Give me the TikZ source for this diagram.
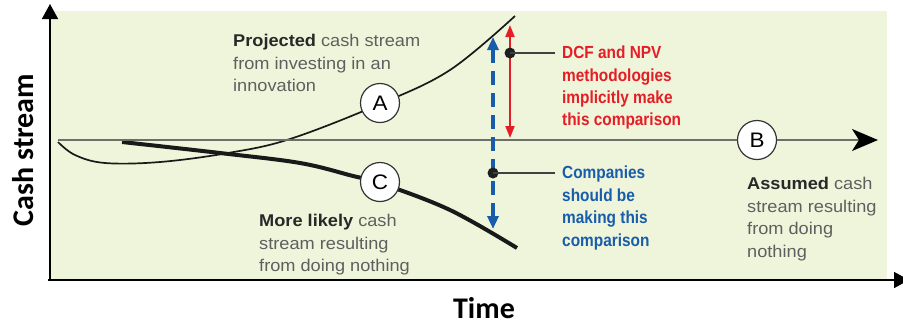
\documentclass[tikz,border=0pt]{standalone}
\usepackage{fontspec}
\setmainfont{Liberation Sans}[FakeStretch=1.07]
\newfontfamily\condfont[FakeStretch=0.88]{Liberation Sans}
\newfontfamily\calfont{Carlito}
\usetikzlibrary{arrows.meta}
\definecolor{bggreen}{RGB}{239,245,219}
\definecolor{graytext}{RGB}{95,95,95}
\definecolor{darktext}{RGB}{40,40,40}
\definecolor{zerogray}{RGB}{110,110,105}
\definecolor{redc}{RGB}{228,30,38}
\definecolor{bluec}{RGB}{24,92,172}
\newcommand\bk[1]{{\color{darktext}\bfseries #1}}
\tikzset{
  axis/.style={line width=1.6pt, black},
  zeroline/.style={line width=1.5pt, zerogray},
  thincurve/.style={line width=1.7pt, black!90},
  thickcurve/.style={line width=4pt, black!90},
  letterc/.style={circle, draw=black!80, fill=white, line width=1.2pt, minimum size=39pt, inner sep=0pt, font=\fontsize{21}{21}\selectfont},
  dotc/.style={circle, fill=black!88, minimum size=11pt, inner sep=0pt},
  lead/.style={line width=1.5pt, black!75},
  gtext/.style={anchor=north west, inner sep=0pt, align=left, text=graytext, font=\fontsize{17}{22.5}\selectfont},
  rtext/.style={anchor=north west, inner sep=0pt, align=left, text=redc, font=\condfont\bfseries\fontsize{17.5}{22.2}\selectfont},
  btext/.style={anchor=north west, inner sep=0pt, align=left, text=bluec, font=\condfont\bfseries\fontsize{17.5}{22.4}\selectfont},
  axlabel/.style={font=\calfont\bfseries\fontsize{30}{30}\selectfont, text=black, inner sep=0pt}
}
\begin{document}
\begin{tikzpicture}[x=1pt,y=-1pt]
\useasboundingbox (0,0) rectangle (903,325);
\fill[bggreen] (50,11) rectangle (887,280);
% axes
\coordinate (o) at (50,280);
\coordinate (ytop) at (50,4);
\coordinate (xend) at (909,280);
\draw[axis, -{Triangle[length=15pt,width=16pt]}] (o) -- (ytop);
\draw[axis, -{Triangle[length=15pt,width=16pt]}] ([xshift=-2pt]o) -- (xend);
% curves
\draw[thincurve] plot[smooth, tension=0.6] coordinates {(58,142) (75,155) (105,163) (160,162) (228,153) (290,139) (380,104) (450,70) (515,16)};
\draw[thickcurve] plot[smooth, tension=0.6] coordinates {(122,142) (220,153) (300,163) (353,176) (380,183) (450,210) (517,248)};
% zero line
\coordinate (z0) at (58,140);
\coordinate (zend) at (878,140);
\node[letterc] (B) at (757,140) {B};
\draw[zeroline] (z0) -- (B.west);
\draw[zeroline, -{Stealth[length=26pt,width=22pt,inset=7pt,color=black]}] (B.east) -- (zend);
% red arrow
\coordinate (rtop) at (510,25);
\coordinate (rbot) at (510,138);
\draw[line width=1.8pt, redc, {Triangle[length=12pt,width=9pt]}-{Triangle[length=12pt,width=9pt]}] (rbot) -- (rtop);
% blue dashed arrow
\coordinate (btop) at (493,37);
\coordinate (bbot) at (493,229);
\draw[line width=4.5pt, bluec, dash pattern=on 14pt off 8pt, {Triangle[length=13pt,width=11pt]}-{Triangle[length=13pt,width=11pt]}] (bbot) -- (btop);
% circles
\node[letterc] (A) at (380,103) {A};
\node[letterc] (C) at (380,182) {C};
% dots and leads
\node[dotc] (rd) at (510,53) {};
\node[dotc] (bd) at (493,173) {};
\node[rtext] (rl) at (562,46) {DCF and NPV\\methodologies\\implicitly make\\this comparison};
\node[btext] (bl) at (562,166) {Companies\\should be\\making this\\comparison};
\draw[lead] (rd.center) -- ([xshift=-7pt]rd -| rl.west);
\draw[lead] (bd.center) -- ([xshift=-7pt]bd -| bl.west);
% gray texts
\node[gtext] (pt) at (233,34) {\bk{Projected} cash stream\\from investing in an\\innovation};
\node[gtext] (mt) at (259,214) {\bk{More likely} cash\\stream resulting\\from doing nothing};
\node[gtext] (at) at (747,177) {\bk{Assumed} cash\\stream resulting\\from doing\\nothing};
% axis labels
\node[axlabel, rotate=90] (ylab) at (23,150) {Cash stream};
\node[axlabel] (xlab) at (484,308) {Time};
\end{tikzpicture}
\end{document}
